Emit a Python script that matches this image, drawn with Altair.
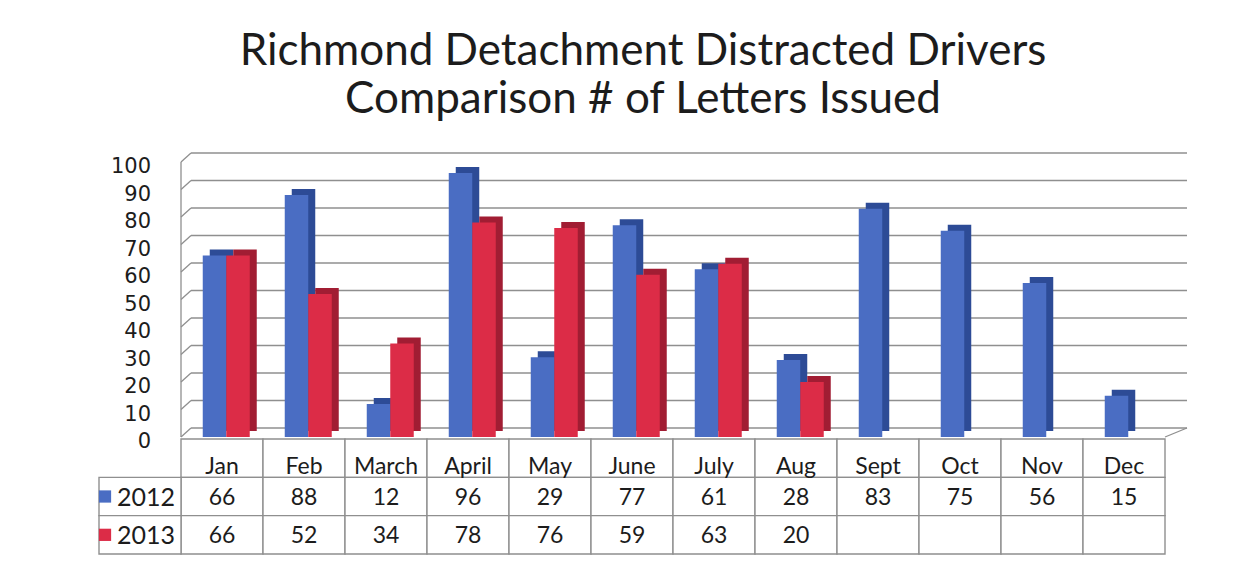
import altair as alt
import pandas as pd

# ---------------- data ----------------
months = ["Jan", "Feb", "March", "April", "May", "June", "July", "Aug",
          "Sept", "Oct", "Nov", "Dec"]
y2012 = [66, 88, 12, 96, 29, 77, 61, 28, 83, 75, 56, 15]
y2013 = [66, 52, 34, 78, 76, 59, 63, 20, None, None, None, None]
years = ["2012", "2013"]
ticks = [0, 10, 20, 30, 40, 50, 60, 70, 80, 90, 100]
title_lines = ["Richmond Detachment Distracted Drivers",
               "Comparison # of Letters Issued"]

HDR = "hdr"
cols = [HDR] + months

BLUE, RED = "#4a6dc3", "#dc2c47"
BLUE_D, RED_D = "#2d4b96", "#a11d33"
GRID = "#8f8f8f"
TXT = "#1c1c1c"
FONT = "Lato"

bar_rows = []
for i, m in enumerate(months):
    bar_rows.append({"col": m, "year": "2012", "value": y2012[i]})
    if y2013[i] is not None:
        bar_rows.append({"col": m, "year": "2013", "value": y2013[i]})
bars = pd.DataFrame(bar_rows)

grid = pd.DataFrame({"v": ticks, "c1": months[0], "c2": months[-1], "col": HDR})
floor = pd.DataFrame({"v": [0], "c1": [months[0]], "c2": [months[-1]]})

xscale = alt.Scale(domain=cols, paddingInner=0, paddingOuter=0)
yscale = alt.Scale(domain=[0, 100], nice=False, zero=True)

W = 82 * len(cols)
H = 275
NOVIEW = alt.ViewBackground(stroke="transparent", strokeWidth=0)

# ---------------- bar chart ----------------
back_grid = alt.Chart(grid).mark_rule(
    color=GRID, strokeWidth=1.3, xOffset=10, yOffset=-9, x2Offset=22
).encode(
    x=alt.X("c1:N", bandPosition=0, scale=xscale, axis=None),
    x2=alt.X2("c2:N", bandPosition=1),
    y=alt.Y("v:Q", scale=yscale, axis=None),
)
left_slant = alt.Chart(grid).mark_rule(
    color=GRID, strokeWidth=1.3, x2Offset=10, y2Offset=-9
).encode(
    x=alt.X("c1:N", bandPosition=0, scale=xscale, axis=None),
    x2=alt.X2("c1:N", bandPosition=0),
    y=alt.Y("v:Q", scale=yscale, axis=None),
    y2=alt.Y2("v:Q"),
)
right_slant = alt.Chart(floor).mark_rule(
    color=GRID, strokeWidth=1.3, x2Offset=22, y2Offset=-9
).encode(
    x=alt.X("c2:N", bandPosition=1, scale=xscale, axis=None),
    x2=alt.X2("c2:N", bandPosition=1),
    y=alt.Y("v:Q", scale=yscale, axis=None),
    y2=alt.Y2("v:Q"),
)
wall = alt.Chart(pd.DataFrame({"c1": [months[0]], "lo": [0], "hi": [100]})).mark_rule(
    color=GRID, strokeWidth=1.3
).encode(
    x=alt.X("c1:N", bandPosition=0, scale=xscale, axis=None),
    y=alt.Y("lo:Q", scale=yscale, axis=None),
    y2=alt.Y2("hi:Q"),
)
tick_labels = alt.Chart(grid).mark_text(
    align="right", baseline="middle", dx=11, dy=5,
    font="DejaVu Sans", fontSize=21, color=TXT
).encode(
    x=alt.X("col:N", scale=xscale, axis=None),
    y=alt.Y("v:Q", scale=yscale, axis=None),
    text=alt.Text("v:Q"),
)


def bar_layer(year, color, xo, yo):
    return alt.Chart(bars).transform_filter(
        alt.datum.year == year
    ).mark_bar(width=23.5, xOffset=xo, yOffset=yo, color=color).encode(
        x=alt.X("col:N", scale=xscale, axis=None),
        y=alt.Y("value:Q", scale=yscale, axis=None),
    )


bar_chart = alt.layer(
    back_grid, left_slant, right_slant, wall, tick_labels,
    bar_layer("2012", BLUE_D, -7.5 + 7, -6),
    bar_layer("2013", RED_D, 16 + 7, -6),
    bar_layer("2012", BLUE, -7.5, 0),
    bar_layer("2013", RED, 16, 0),
).properties(width=W, height=H, view=NOVIEW)

# ---------------- data table ----------------
row_keys = ["m"] + years
cells = []
for m in months:
    for r in row_keys:
        cells.append({"col": m, "row": r})
for r in years:
    cells.append({"col": HDR, "row": r})
cells = pd.DataFrame(cells)

lab = pd.DataFrame({"col": months, "row": "m", "text": months})
vals = bars.assign(row=bars["year"], text=bars["value"].astype(str))
hdr = pd.DataFrame({"col": HDR, "row": years, "year": years})

yrow = alt.Scale(domain=row_keys, paddingInner=0, paddingOuter=0)
XT = alt.X("col:N", scale=xscale, axis=None)
YT = alt.Y("row:N", scale=yrow, axis=None)

cell_layer = alt.Chart(cells).mark_rect(
    fill="white", stroke=GRID, strokeWidth=1.4
).encode(x=XT, y=YT)
month_text = alt.Chart(lab).mark_text(
    font=FONT, fontSize=23, color=TXT, baseline="middle", dy=9
).encode(x=XT, y=YT, text="text:N")
val_text = alt.Chart(vals).mark_text(
    font=FONT, fontSize=23, color=TXT, baseline="middle", dy=1
).encode(x=XT, y=YT, text="text:N")
hdr_sq = alt.Chart(hdr).mark_square(size=150, opacity=1, xOffset=-35).encode(
    x=XT, y=YT,
    color=alt.Color("year:N", scale=alt.Scale(domain=years, range=[BLUE, RED]),
                    legend=None),
)
hdr_text = alt.Chart(hdr).mark_text(
    font=FONT, fontSize=25, color=TXT, baseline="middle", dx=6, dy=1
).encode(x=XT, y=YT, text="year:N")

table = alt.layer(cell_layer, month_text, val_text, hdr_sq, hdr_text).properties(
    width=W, height=115, view=NOVIEW
)

chart = alt.vconcat(bar_chart, table, spacing=2, bounds="flush").properties(
    title=alt.TitleParams(
        title_lines, font=FONT, fontSize=44, fontWeight="normal", color=TXT,
        lineHeight=48, anchor="middle", offset=30
    ),
    padding={"left": 90, "top": 22, "right": 10, "bottom": 5},
).configure_view(stroke="transparent", strokeWidth=0).configure(background="white")

chart.save("out.html", embed_options={"renderer": "svg", "actions": False})
